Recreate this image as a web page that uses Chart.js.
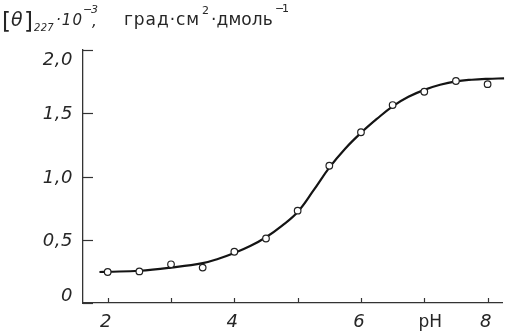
<!DOCTYPE html>
<html>
<head>
<meta charset="utf-8">
<script src="https://cdn.jsdelivr.net/npm/chart.js@4/dist/chart.umd.min.js"></script>
<style>
html, body { margin: 0; padding: 0; background: #fff; }
canvas { display: block; }
</style>
</head>
<body>
<canvas id="cdChart" width="508" height="334"></canvas>
<script>
'use strict'

/* measured points (pH, [θ]227 · 10^-3) */
const phPoints = [2, 2.5, 3, 3.5, 4, 4.5, 5, 5.5, 6, 6.5, 7, 7.5, 8];
const thetaPoints = [0.245, 0.25, 0.306, 0.28, 0.405, 0.51, 0.73, 1.085, 1.35, 1.565, 1.67, 1.755, 1.73];

/* drawn curve */
const phCurve = [1.87, 2, 2.5, 3, 3.5, 3.75, 4, 4.25, 4.5, 4.75, 5, 5.25, 5.5, 5.75, 6, 6.25, 6.5, 6.75, 7, 7.25, 7.5, 7.75, 8, 8.26];
const thetaCurve = [0.245, 0.247, 0.255, 0.28, 0.315, 0.35, 0.395, 0.45, 0.52, 0.61, 0.72, 0.89, 1.07, 1.22, 1.345, 1.455, 1.555, 1.63, 1.685, 1.725, 1.752, 1.765, 1.772, 1.776];

/* ticks */
const xTickValues = [2, 3, 4, 5, 6, 7, 8];
const xTickLabels = ['2', '', '4', '', '6', 'pH', '8'];
const yTickValues = [0, 0.5, 1, 1.5, 2];
const yTickLabels = ['0', '0,5', '1,0', '1,5', '2,0'];

const inkColor = '#262626';

//==================================================================================================

//text with letter spacing so it fills a given width
function fitText(ctx, text, x, y, font, width){
    ctx.font = font;
    ctx.letterSpacing = '0px';
    if(width){
        const w = ctx.measureText(text).width;
        ctx.letterSpacing = ((width - w) / text.length) + 'px';
    }
    ctx.fillText(text, x, y);
    ctx.letterSpacing = '0px';
}

//inward ticks, tick labels and the axis title
const axisDecor = {
    id: 'axisDecor',
    afterDraw(chart){
        const ctx = chart.ctx;
        const area = chart.chartArea;
        const xs = chart.scales.x;
        const ys = chart.scales.y;
        ctx.save();
        ctx.strokeStyle = '#333';
        ctx.lineWidth = 1.2;

        yTickValues.forEach((v) => {
            const py = Math.round(ys.getPixelForValue(v)) + 0.5;
            ctx.beginPath();
            ctx.moveTo(area.left, py);
            ctx.lineTo(area.left + 10, py);
            ctx.stroke();
        });
        xTickValues.forEach((v) => {
            const px = Math.round(xs.getPixelForValue(v)) + 0.5;
            ctx.beginPath();
            ctx.moveTo(px, area.bottom);
            ctx.lineTo(px, area.bottom - 5);
            ctx.stroke();
        });

        ctx.fillStyle = inkColor;
        ctx.textBaseline = 'middle';

        //y labels
        ctx.textAlign = 'right';
        yTickValues.forEach((v, i) => {
            let dy = 1.5;
            if(i == yTickValues.length - 1) dy = 10;
            if(i == 0) dy = -6.5;
            ctx.font = 'italic 18px "DejaVu Sans"';
            ctx.letterSpacing = '0.5px';
            ctx.fillText(yTickLabels[i], area.left - 10, ys.getPixelForValue(v) + dy);
        });
        ctx.letterSpacing = '0px';

        //x labels
        ctx.textAlign = 'center';
        xTickValues.forEach((v, i) => {
            const label = xTickLabels[i];
            if(!label) return;
            const px = xs.getPixelForValue(v);
            if(label == 'pH'){
                ctx.font = '17px "DejaVu Sans"';
                ctx.fillText(label, px + 6, 322.5);
            }
            else{
                ctx.font = 'italic 18px "DejaVu Sans"';
                ctx.fillText(label, px - 2, 322.5);
            }
        });

        //axis title [θ]227·10^-3, град·см^2·дмоль^-1
        ctx.textAlign = 'left';
        ctx.textBaseline = 'alphabetic';
        fitText(ctx, '[', 2, 29, '23px "DejaVu Sans"');
        fitText(ctx, 'θ', 11, 26, 'italic 19px "DejaVu Sans"');
        fitText(ctx, ']', 24, 29, '23px "DejaVu Sans"');
        fitText(ctx, '227', 34, 31, 'italic 10px "DejaVu Sans"', 20);
        fitText(ctx, '·10', 56, 25, 'italic 15px "DejaVu Sans"', 27);
        fitText(ctx, '−3', 83, 13, 'italic 11px "DejaVu Sans"', 14);
        fitText(ctx, ',', 92, 26, 'italic 15px "DejaVu Sans"');
        fitText(ctx, 'град·см', 124, 25, '17px "DejaVu Sans"', 76);
        fitText(ctx, '2', 202, 14, '11px "DejaVu Sans"');
        fitText(ctx, '·дмоль', 211, 25, '17px "DejaVu Sans"', 62);
        fitText(ctx, '−1', 275, 12, '11px "DejaVu Sans"', 12);

        ctx.restore();
    }
};

new Chart(document.getElementById('cdChart'), {
    type: 'scatter',
    data: {
        datasets: [
            {
                type: 'line',
                label: 'curve',
                data: phCurve.map((x, i) => ({ x: x, y: thetaCurve[i] })),
                borderColor: '#141414',
                borderWidth: 2.2,
                pointRadius: 0,
                tension: 0.4,
                fill: false,
                clip: false,
                order: 2
            },
            {
                label: 'points',
                data: phPoints.map((x, i) => ({ x: x, y: thetaPoints[i] })),
                pointRadius: 3.3,
                pointBackgroundColor: '#fff',
                pointBorderColor: '#222',
                pointBorderWidth: 1.2,
                order: 1
            }
        ]
    },
    options: {
        responsive: false,
        devicePixelRatio: 1,
        animation: false,
        layout: { padding: { top: 50, right: 2, left: 0, bottom: 0 } },
        plugins: {
            legend: { display: false },
            tooltip: { enabled: false }
        },
        scales: {
            x: {
                type: 'linear',
                min: 1.61,
                max: 8.24,
                afterBuildTicks: (scale) => { scale.ticks = xTickValues.map((v) => ({ value: v })); },
                afterFit: (scale) => { scale.height = 31; },
                ticks: { display: false },
                grid: { display: false },
                border: { display: true, color: '#333', width: 1.3 }
            },
            y: {
                min: 0,
                max: 2,
                afterBuildTicks: (scale) => { scale.ticks = yTickValues.map((v) => ({ value: v })); },
                afterFit: (scale) => { scale.width = 83; },
                ticks: { display: false },
                grid: { display: false },
                border: { display: true, color: '#333', width: 1.3 }
            }
        }
    },
    plugins: [axisDecor]
});
</script>
</body>
</html>
